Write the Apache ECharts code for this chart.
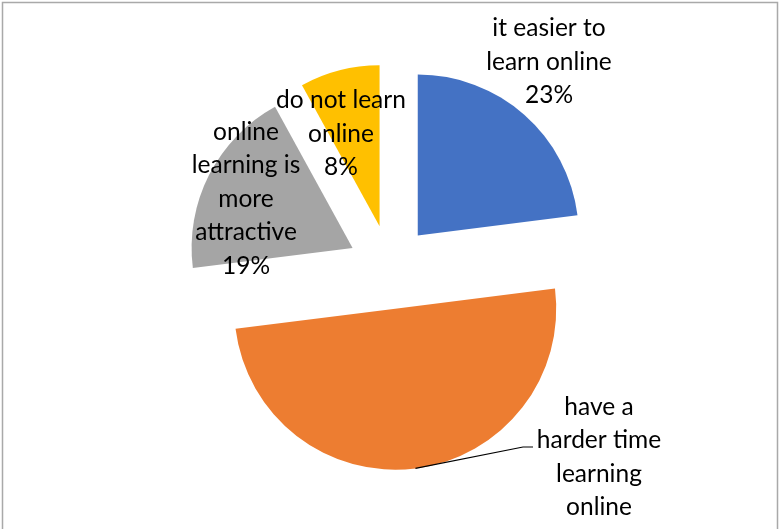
<!DOCTYPE html>
<html>
<head>
<meta charset="utf-8">
<script src="https://cdn.jsdelivr.net/npm/echarts@6/dist/echarts.min.js"></script>
<style>
html,body{margin:0;padding:0;background:#fff;}
#main{width:780px;height:529px;}
</style>
</head>
<body>
<div id="main"></div>
<script>
const categories = ['it easier to learn online', 'have a harder time learning online', 'online learning is more attractive', 'do not learn online'];
const values = [23, 50, 19, 8];
const wrappedNames = ['it easier to\nlearn online', 'have a\nharder time\nlearning\nonline', 'online\nlearning is\nmore\nattractive', 'do not learn\nonline'];
const colors = ['#4472C4', '#ED7D31', '#A5A5A5', '#FFC000'];

// layout only
const pieCenter = [390, 267];
const pieRadius = 161;
const explode = 42;
const labelCentres = [[549, 62], [599, 474], [246, 199], [341, 134]];
const showLeader = [false, true, false, false];

const chart = echarts.init(document.getElementById('main'), null, {renderer: 'canvas'});
chart.setOption({
  animation: false,
  graphic: [{
    type: 'rect',
    shape: {x: 2.5, y: 2.5, width: 775, height: 545},
    style: {fill: 'none', stroke: '#A9A9A9', lineWidth: 1.5},
    silent: true
  }],
  series: [{
    // exploded slices
    type: 'pie',
    z: 1,
    center: pieCenter,
    radius: pieRadius,
    startAngle: 90,
    clockwise: true,
    selectedMode: 'multiple',
    selectedOffset: explode,
    silent: true,
    emphasis: {disabled: true},
    itemStyle: {borderWidth: 0},
    label: {show: false},
    labelLine: {show: false},
    data: categories.map((n, i) => ({
      name: n, value: values[i], selected: true, itemStyle: {color: colors[i]}
    }))
  }, {
    // labels (transparent ring whose outer edge matches the exploded arcs)
    type: 'pie',
    z: 5,
    center: pieCenter,
    radius: pieRadius + explode,
    startAngle: 90,
    clockwise: true,
    silent: true,
    avoidLabelOverlap: false,
    emphasis: {disabled: true},
    itemStyle: {color: 'rgba(0,0,0,0)', borderWidth: 0},
    label: {
      show: true,
      position: 'outside',
      fontFamily: 'Lato',
      fontSize: 24.5,
      lineHeight: 33.5,
      color: '#000',
      align: 'center',
      formatter: p => wrappedNames[p.dataIndex] + '\n' + Math.round(p.percent) + '%'
    },
    labelLine: {show: true, lineStyle: {color: '#000', width: 1.2}, length: 20, length2: 10},
    labelLayout: function (params) {
      const i = params.dataIndex;
      const c = labelCentres[i];
      const res = {x: c[0], y: c[1], align: 'center', verticalAlign: 'middle'};
      if (showLeader[i] && params.labelLinePoints) {
        res.labelLinePoints = [params.labelLinePoints[0], [523, 447], [533, 447]];
      }
      return res;
    },
    data: categories.map((n, i) => ({
      name: n, value: values[i], labelLine: {show: showLeader[i]}
    }))
  }]
});
</script>
</body>
</html>
